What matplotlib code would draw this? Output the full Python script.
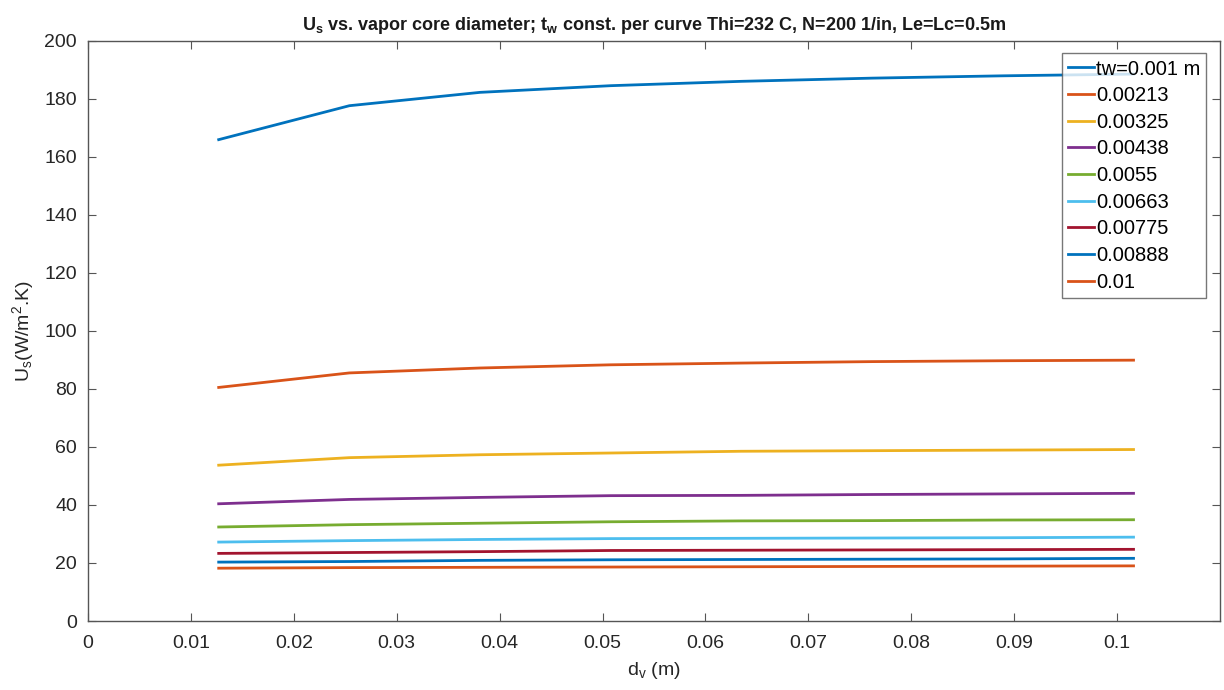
import matplotlib.pyplot as plt
import numpy as np

plt.rcParams['font.family'] = ['Liberation Sans', 'DejaVu Sans']
plt.rcParams['mathtext.default'] = 'regular'

# vapor core diameter (m)
dv = [0.0127, 0.0254, 0.0381, 0.0508, 0.0635, 0.0762, 0.0889, 0.1016]

labels = ['tw=0.001 m', '0.00213', '0.00325', '0.00438', '0.0055',
          '0.00663', '0.00775', '0.00888', '0.01']

us_001 = [165.9, 177.6, 182.2, 184.5, 186.0, 187.1, 187.9, 188.5]
us_00213 = [80.5, 85.5, 87.2, 88.3, 88.9, 89.4, 89.7, 89.9]
us_00325 = [53.7, 56.3, 57.3, 57.9, 58.5, 58.7, 58.9, 59.1]
us_00438 = [40.4, 41.9, 42.6, 43.2, 43.3, 43.6, 43.8, 44.0]
us_0055 = [32.4, 33.2, 33.7, 34.2, 34.5, 34.6, 34.8, 34.9]
us_00663 = [27.2, 27.7, 28.1, 28.4, 28.5, 28.6, 28.7, 28.9]
us_00775 = [23.3, 23.6, 23.9, 24.3, 24.4, 24.5, 24.6, 24.7]
us_00888 = [20.3, 20.5, 20.9, 21.1, 21.2, 21.3, 21.4, 21.6]
us_01 = [18.2, 18.4, 18.5, 18.6, 18.7, 18.8, 18.9, 19.0]

curves = [us_001, us_00213, us_00325, us_00438, us_0055,
          us_00663, us_00775, us_00888, us_01]

# matlab default line colours
colors = [(0, 0.447, 0.741), (0.85, 0.325, 0.098), (0.929, 0.694, 0.125),
          (0.494, 0.184, 0.556), (0.466, 0.674, 0.188), (0.301, 0.745, 0.933),
          (0.635, 0.078, 0.184), (0, 0.447, 0.741), (0.85, 0.325, 0.098)]

fig = plt.figure(figsize=(12.24, 6.9), dpi=100)
ax = fig.add_axes([0.0719, 0.1, 0.9248, 0.841])

for us, lab, c in zip(curves, labels, colors):
    ax.plot(dv, us, color=c, lw=2.0, label=lab)

ax.set_xlim(0, 0.11)
ax.set_ylim(0, 200)
ax.set_xticks(np.arange(0, 0.101, 0.01))
ax.set_xticklabels(['0', '0.01', '0.02', '0.03', '0.04', '0.05', '0.06',
                    '0.07', '0.08', '0.09', '0.1'])
ax.set_yticks(np.arange(0, 201, 20))

axcol = '#555555'
for s in ax.spines.values():
    s.set_color(axcol)
    s.set_linewidth(1.0)
ax.tick_params(direction='in', top=True, right=True, length=6,
               color=axcol, labelsize=14, labelcolor='#262626')
ax.tick_params(axis='x', pad=10)
ax.tick_params(axis='y', pad=8)

ax.set_xlabel('d$_v$ (m)', fontsize=14, color='#262626', labelpad=6)
ax.set_ylabel('U$_s$(W/m$^2$.K)', fontsize=14, color='#262626', labelpad=6)
ax.set_title('U$_s$ vs. vapor core diameter; t$_w$ const. per curve '
             'Thi=232 C, N=200 1/in, Le=Lc=0.5m',
             fontsize=13, fontweight='bold', color='#1a1a1a', pad=8)

leg = ax.legend(loc='upper right', bbox_to_anchor=(0.988, 0.978), fontsize=14.5,
                frameon=True, fancybox=False, handlelength=1.3,
                handletextpad=0.1, borderpad=0.3, labelspacing=0.38,
                borderaxespad=0)
leg.get_frame().set_edgecolor(axcol)
leg.get_frame().set_linewidth(1.0)

fig.savefig('out.png', dpi=100)
